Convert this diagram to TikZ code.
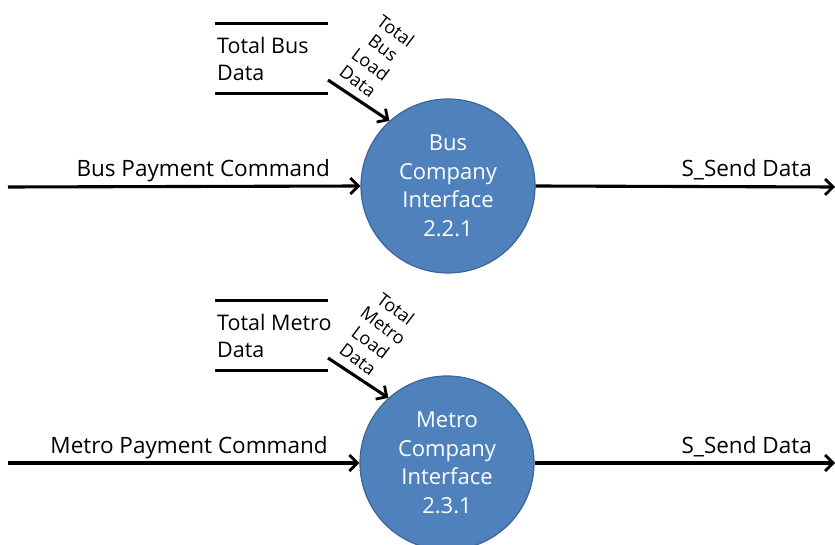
\documentclass[tikz,border=0pt]{standalone}
\usepackage{fontspec}
\setmainfont{Open Sans}
\usetikzlibrary{arrows.meta}
\definecolor{procfill}{HTML}{4F81BD}
\definecolor{procdraw}{HTML}{3C6696}
\begin{document}
\begin{tikzpicture}[x=1pt,y=-1pt,
  proc/.style={circle, fill=procfill, draw=procdraw, line width=1.2pt, minimum size=174pt, inner sep=0pt, text=white, align=center, font=\fontsize{22}{28.5}\selectfont},
  flow/.style={line width=3.1pt, -{Straight Barb[length=8pt,width=16pt,line width=2.8pt]}},
  lbl/.style={font=\fontsize{22.5}{24}\selectfont, inner sep=0pt},
  store/.style={anchor=west, minimum height=69pt, inner sep=2pt, align=left, font=\fontsize{21.5}{27}\selectfont},
  storeline/.style={line width=3.2pt},
  rotlbl/.style={rotate=-37, align=center, inner sep=0pt, font=\fontsize{18}{21}\selectfont}
]
\useasboundingbox (0,0) rectangle (835,545);
% Bus
\node[proc] (bus) at (448,186) {Bus\\Company\\Interface\\2.2.1};
\node[store] (bstore) at (215,58.5) {Total Bus\\Data};
\draw[storeline] (bstore.north west) -- ++(113,0);
\draw[storeline] (bstore.south west) -- ++(113,0);
\coordinate (bld) at (328,80);
\draw[flow] (bld) -- (bus.132);
\node[rotlbl] (bldl) at (377,56) {Total\\Bus\\Load\\Data};
\coordinate (bin) at (8,187);
\draw[flow] (bin) -- (bus.west);
\node[lbl, anchor=base east] (binl) at (330,177) {Bus Payment Command};
\coordinate (bout) at (835,187);
\draw[flow] (bus.east) -- (bout);
\node[lbl, anchor=base east] (boutl) at (812,177) {S\_Send Data};
% Metro
\node[proc] (metro) at (447,463) {Metro\\Company\\Interface\\2.3.1};
\node[store] (mstore) at (215,335.5) {Total Metro\\Data};
\draw[storeline] (mstore.north west) -- ++(113,0);
\draw[storeline] (mstore.south west) -- ++(113,0);
\coordinate (mld) at (328,358);
\draw[flow] (mld) -- (metro.132);
\node[rotlbl] (mldl) at (377,334) {Total\\Metro\\Load\\Data};
\coordinate (min) at (8,463);
\draw[flow] (min) -- (metro.west);
\node[lbl, anchor=base east] (minl) at (328,453) {Metro Payment Command};
\coordinate (mout) at (835,463);
\draw[flow] (metro.east) -- (mout);
\node[lbl, anchor=base east] (moutl) at (812,453) {S\_Send Data};
\end{tikzpicture}
\end{document}
